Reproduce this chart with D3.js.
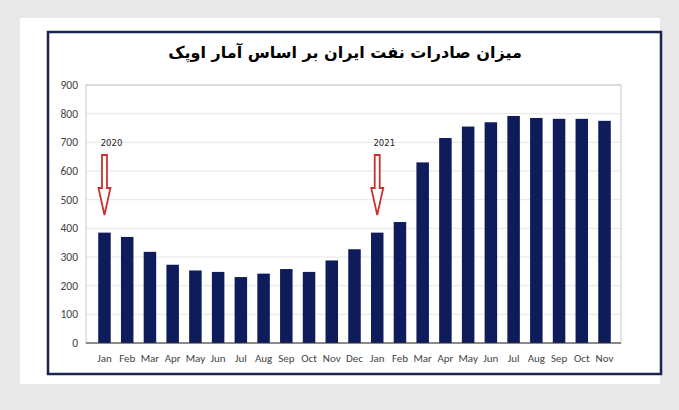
<!DOCTYPE html>
<html lang="fa">
<head>
<meta charset="utf-8">
<script src="https://d3js.org/d3.v7.min.js"></script>
<style>
body { margin: 0; background: #e9e9e9; }
svg { display: block; }
</style>
</head>
<body>
<div id="chart"></div>
<script>
// months (two years) and export values (thousand bpd)
var months = ["Jan","Feb","Mar","Apr","May","Jun","Jul","Aug","Sep","Oct","Nov","Dec",
              "Jan","Feb","Mar","Apr","May","Jun","Jul","Aug","Sep","Oct","Nov"];
var values = [385,370,318,273,253,248,230,242,258,248,288,327,
              385,422,630,715,755,770,792,785,782,782,775];
var yTicks = [0,100,200,300,400,500,600,700,800,900];
var yearMarks = [{idx: 0, label: "2020"}, {idx: 12, label: "2021"}];
var title = "میزان صادرات نفت ایران بر اساس آمار اوپک";

var width = 679, height = 410;
var svg = d3.select("#chart").append("svg").attr("width", width).attr("height", height);

// page + frame
svg.append("rect").attr("x", 20).attr("y", 18).attr("width", 640).attr("height", 366).attr("fill", "#fff");
svg.append("rect").attr("x", 48).attr("y", 32).attr("width", 613).attr("height", 342)
  .attr("fill", "#fff").attr("stroke", "#1a2452").attr("stroke-width", 2.5);

svg.append("text").attr("x", 345).attr("y", 58).attr("text-anchor", "middle")
  .attr("direction", "rtl")
  .style("font-family", "'DejaVu Sans', sans-serif").style("font-size", "16px").style("font-weight", "bold")
  .text(title);

var x = d3.scaleBand().domain(d3.range(months.length)).range([88, 621]).padding(0.45);
var y = d3.scaleLinear().domain([0, 900]).range([343, 85]);

// gridlines
svg.append("g").selectAll("line").data(yTicks.slice(1)).enter().append("line")
  .attr("x1", 86).attr("x2", 621).attr("y1", d => y(d)).attr("y2", d => y(d))
  .attr("stroke", "#e6e6e6");
svg.append("rect").attr("x", 86).attr("y", y(900)).attr("width", 535).attr("height", y(0) - y(900))
  .attr("fill", "none").attr("stroke", "#bbb").attr("stroke-width", 0.8);

// y labels
svg.append("g").selectAll("text").data(yTicks).enter().append("text")
  .attr("x", 78).attr("y", d => y(d) + 4).attr("text-anchor", "end")
  .style("font-family", "Calibri, 'Liberation Sans', sans-serif").style("font-size", "11.5px").attr("fill", "#444")
  .text(d => d);

// bars
svg.append("g").selectAll("rect").data(values).enter().append("rect")
  .attr("x", (d, i) => x(i)).attr("width", x.bandwidth())
  .attr("y", d => y(d)).attr("height", d => y(0) - y(d))
  .attr("fill", "#0e1c5b");

// axis line
svg.append("line").attr("x1", 86).attr("x2", 621).attr("y1", y(0)).attr("y2", y(0)).attr("stroke", "#333");

// x labels
svg.append("g").selectAll("text").data(months).enter().append("text")
  .attr("x", (d, i) => x(i) + x.bandwidth() / 2).attr("y", 362).attr("text-anchor", "middle")
  .style("font-family", "Calibri, 'Liberation Sans', sans-serif").style("font-size", "11px").attr("fill", "#444")
  .text(d => d);

// year labels and red arrows
yearMarks.forEach(function (m) {
  var cx = x(m.idx) + x.bandwidth() / 2;
  svg.append("text").attr("x", cx + 7).attr("y", 146).attr("text-anchor", "middle")
    .style("font-family", "'DejaVu Sans', sans-serif").style("font-size", "8.5px").attr("fill", "#222")
    .text(m.label);
  var p = d3.path();
  p.moveTo(cx - 2.5, 155); p.lineTo(cx + 2.5, 155); p.lineTo(cx + 2.5, 188);
  p.lineTo(cx + 6, 188); p.lineTo(cx, 215); p.lineTo(cx - 6, 188);
  p.lineTo(cx - 2.5, 188); p.closePath();
  svg.append("path").attr("d", p.toString()).attr("fill", "#fff")
    .attr("stroke", "#c8332e").attr("stroke-width", 1.8);
});
</script>
</body>
</html>
